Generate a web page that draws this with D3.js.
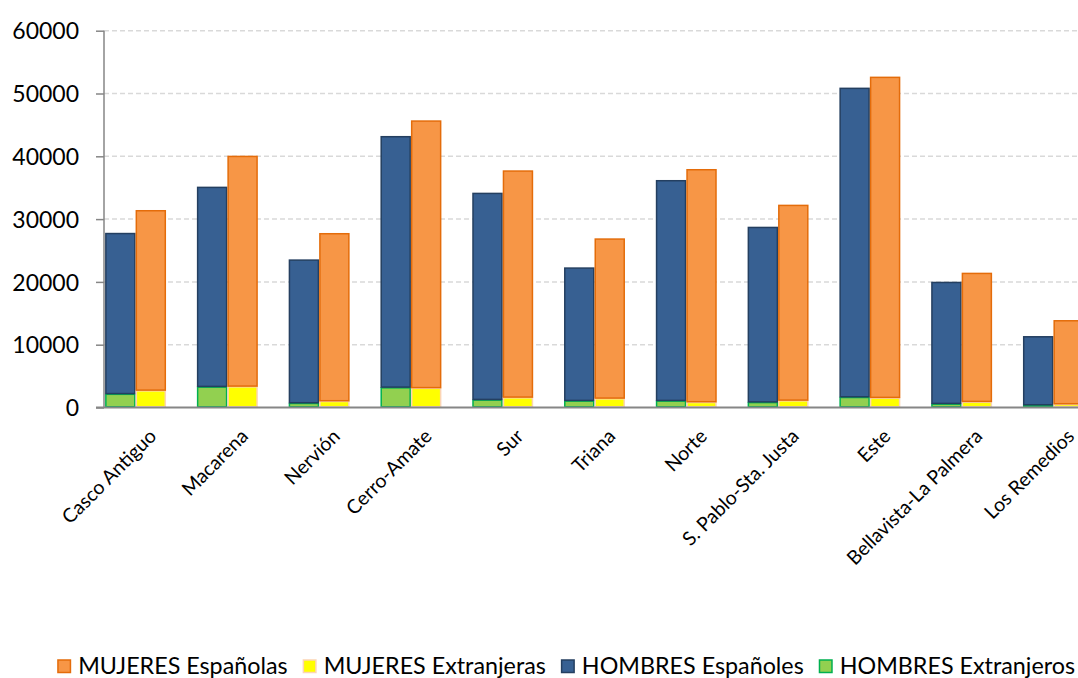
<!DOCTYPE html>
<html><head><meta charset="utf-8">
<script src="https://cdn.jsdelivr.net/npm/d3@7"></script>
<style>
html,body{margin:0;padding:0;background:#fff;}
svg{display:block;font-family:Lato,"Open Sans",sans-serif;}
</style></head>
<body>
<svg id="chart" width="1078" height="678"></svg>
<script>
const categories = ["Casco Antiguo","Macarena","Nervión","Cerro-Amate","Sur","Triana","Norte","S. Pablo-Sta. Justa","Este","Bellavista-La Palmera","Los Remedios"];
const hombresExtranjeros = [2100, 3240, 640, 3130, 1170, 1010, 1010, 780, 1590, 530, 320];
const hombresEspanoles   = [25600, 31810, 22830, 39990, 32920, 21190, 35100, 27890, 49230, 19380, 10940];
const mujeresExtranjeras = [2650, 3290, 960, 3050, 1540, 1380, 800, 1060, 1490, 850, 480];
const mujeresEspanolas   = [28680, 36690, 26710, 42560, 36110, 25440, 37060, 31120, 51080, 20500, 13330];
const yTicks = [0, 10000, 20000, 30000, 40000, 50000, 60000];
const groups = ["HOMBRES", "MUJERES"];
const legendItems = ["MUJERES Españolas", "MUJERES Extranjeras", "HOMBRES Españoles", "HOMBRES Extranjeros"];

const styles = {
  "MUJERES Españolas":   {fill:"#F79646", stroke:"#E46C0A"},
  "MUJERES Extranjeras": {fill:"#FFFF00", stroke:"#FCD5B4"},
  "HOMBRES Españoles":   {fill:"#376092", stroke:"#243F60"},
  "HOMBRES Extranjeros": {fill:"#92D050", stroke:"#00B050"}
};

const svg = d3.select("#chart");
const plotLeft = 104, plotRight = 1078, plotTop = 30.7, plotBottom = 407.5;

const y = d3.scaleLinear().domain([0, 60000]).range([plotBottom, plotTop]);
const x = d3.scaleBand().domain(categories).range([plotLeft, 1085]).paddingInner(0.336).paddingOuter(0.012);
const xs = d3.scaleBand().domain(groups).range([0, x.bandwidth()]);

// gridlines
svg.append("g").selectAll("line").data(yTicks.filter(d => d > 0)).join("line")
  .attr("x1", plotLeft).attr("x2", plotRight)
  .attr("y1", d => y(d)).attr("y2", d => y(d))
  .attr("stroke", "#D9D9D9").attr("stroke-width", 1.5).attr("stroke-dasharray", "5,3");

// stacked data
const stacks = [];
categories.forEach((c, i) => {
  stacks.push({cat:c, g:"HOMBRES", key:"HOMBRES Extranjeros", y0:0, y1:hombresExtranjeros[i]});
  stacks.push({cat:c, g:"HOMBRES", key:"HOMBRES Españoles", y0:hombresExtranjeros[i], y1:hombresExtranjeros[i] + hombresEspanoles[i]});
  stacks.push({cat:c, g:"MUJERES", key:"MUJERES Extranjeras", y0:0, y1:mujeresExtranjeras[i]});
  stacks.push({cat:c, g:"MUJERES", key:"MUJERES Españolas", y0:mujeresExtranjeras[i], y1:mujeresExtranjeras[i] + mujeresEspanolas[i]});
});

svg.append("g").selectAll("rect").data(stacks).join("rect")
  .attr("x", d => x(d.cat) + xs(d.g) + 0.75)
  .attr("width", xs.bandwidth() - 1.5)
  .attr("y", d => y(d.y1))
  .attr("height", d => Math.max(0, y(d.y0) - y(d.y1) - 0.75))
  .attr("fill", d => styles[d.key].fill)
  .attr("stroke", d => styles[d.key].stroke)
  .attr("stroke-width", 1.5);

// y axis
const yAxis = d3.axisLeft(y).tickValues(yTicks).tickSize(8).tickPadding(17).tickFormat(d3.format("d"));
const gy = svg.append("g").attr("transform", `translate(${plotLeft},0)`).call(yAxis);
gy.select(".domain").attr("stroke", "#868686").attr("stroke-width", 1.5).attr("d", `M0,${plotTop}V${plotBottom}`);
gy.selectAll(".tick line").attr("stroke", "#868686").attr("stroke-width", 1.5);
gy.selectAll(".tick text").attr("fill", "#000").style("font-size", "23px").style("font-family", "Lato").attr("dy", "0.36em");

// x axis line
svg.append("line").attr("x1", plotLeft - 8).attr("x2", plotRight)
  .attr("y1", plotBottom).attr("y2", plotBottom)
  .attr("stroke", "#868686").attr("stroke-width", 2);

// x labels
svg.append("g").selectAll("text").data(categories).join("text")
  .attr("transform", d => `translate(${x(d) + x.bandwidth()/2 + 22},${plotBottom + 30}) rotate(-45)`)
  .attr("text-anchor", "end")
  .style("font-size", "19.5px")
  .attr("fill", "#000")
  .text(d => d);

// legend
const lg = svg.append("g");
let cursor = 0;
const sw = 14, gapT = 7, gapI = 15;
legendItems.forEach(k => {
  lg.append("rect").attr("x", cursor + 0.75).attr("y", 660).attr("width", sw - 1.5).attr("height", sw - 1.5)
    .attr("fill", styles[k].fill).attr("stroke", styles[k].stroke).attr("stroke-width", 1.5);
  const t = lg.append("text").attr("x", cursor + sw + gapT).attr("y", 674)
    .style("font-size", "23.3px").attr("fill", "#000").text(k);
  cursor += sw + gapT + t.node().getComputedTextLength() + gapI;
});
const total = cursor - gapI;
lg.attr("transform", `translate(${1075 - total},0)`);
</script>
</body></html>
